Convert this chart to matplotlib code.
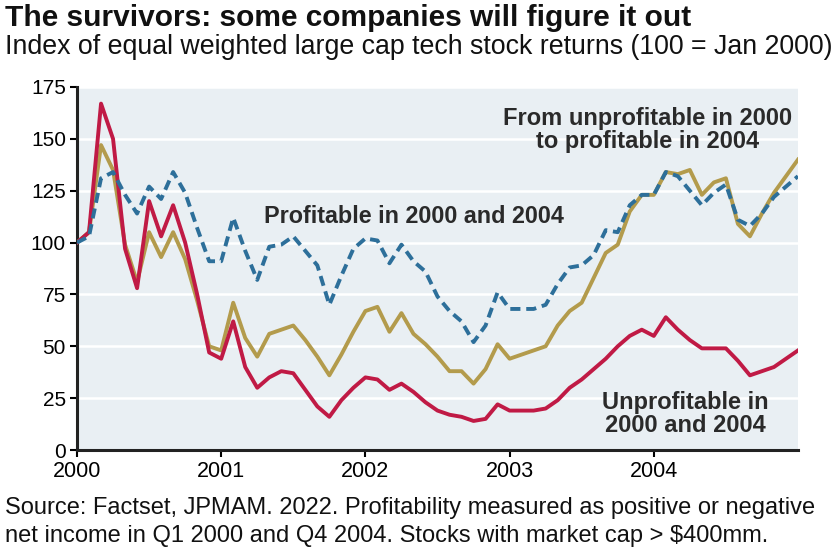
import matplotlib
matplotlib.use("Agg")
import matplotlib.pyplot as plt
import numpy as np

plt.rcParams['font.family'] = ['Liberation Sans', 'DejaVu Sans']

# Monthly index values, Jan 2000 (month 0) through Jan 2005 (month 60)
months = np.arange(61)
unprofitable_both = [100, 105, 167, 150, 97, 78, 120, 103, 118, 100,
                     75, 47, 44, 62, 40, 30, 35, 38, 37, 29,
                     21, 16, 24, 30, 35, 34, 29, 32, 28, 23,
                     19, 17, 16, 14, 15, 22, 19, 19, 19, 20,
                     24, 30, 34, 39, 44, 50, 55, 58, 55, 64,
                     58, 53, 49, 49, 49, 43, 36, 38, 40, 44, 48]
unprof_to_prof = [100, 105, 147, 135, 99, 81, 105, 93, 105, 92,
                  72, 50, 48, 71, 54, 45, 56, 58, 60, 53,
                  45, 36, 46, 57, 67, 69, 57, 66, 56, 51,
                  45, 38, 38, 32, 39, 51, 44, 46, 48, 50,
                  60, 67, 71, 83, 95, 99, 115, 123, 123, 134,
                  133, 135, 123, 129, 131, 109, 103, 114, 124, 132, 140]
profitable_both = [100, 103, 131, 134, 123, 114, 127, 121, 134, 124,
                   107, 91, 91, 112, 96, 82, 98, 99, 103, 96,
                   89, 70, 84, 97, 102, 101, 90, 99, 91, 86,
                   74, 67, 62, 52, 60, 76, 68, 68, 68, 70,
                   80, 88, 89, 94, 106, 105, 118, 123, 123, 134,
                   132, 125, 118, 124, 128, 111, 108, 114, 122, 127, 132]
year_ticks = [2000, 2001, 2002, 2003, 2004]
y_ticks = [0, 25, 50, 75, 100, 125, 150, 175]

x = 2000 + months / 12.0

fig = plt.figure(figsize=(8.39, 5.52), dpi=100)
ax = fig.add_axes([77/839, 1 - 450/552, (798-77)/839, (450-87)/552])
ax.set_facecolor('#e9eff3')

for yv in y_ticks[1:]:
    ax.axhline(yv, color='white', lw=1.8, zorder=1)

ax.plot(x, unprof_to_prof, color='#b39b4c', lw=2.8, zorder=3)
ax.plot(x, unprofitable_both, color='#c01a45', lw=2.8, zorder=4)
ax.plot(x, profitable_both, color='#2d6f9a', lw=2.8, ls=(0, (2.6, 1.5)), zorder=5)

ax.set_xlim(2000, 2005)
ax.set_ylim(0, 175)
ax.set_xticks(year_ticks)
ax.set_xticklabels([str(t) for t in year_ticks])
ax.set_yticks(y_ticks)
ax.tick_params(axis='y', labelsize=15, color='black', width=1.5, length=5, pad=3)
ax.tick_params(axis='x', labelsize=15.5, color='black', width=1.5, length=5, pad=3)
for s in ['top', 'right']:
    ax.spines[s].set_visible(False)
for s in ['left', 'bottom']:
    ax.spines[s].set_linewidth(2.2)
    ax.spines[s].set_color('#222222')

ax.text(2003.96, 154.5, 'From unprofitable in 2000\nto profitable in 2004', ha='center', va='center',
        fontsize=17, fontweight='bold', color='#2a2a2a', linespacing=1.0)
ax.text(2001.30, 112.6, 'Profitable in 2000 and 2004', ha='left', va='center',
        fontsize=16.8, fontweight='bold', color='#2a2a2a')
ax.text(2004.22, 17.4, 'Unprofitable in\n2000 and 2004', ha='center', va='center',
        fontsize=17, fontweight='bold', color='#2a2a2a', linespacing=1.0)

fig.text(5/839, 1 - 18/552, 'The survivors: some companies will figure it out', ha='left', va='center',
         fontsize=21.5, fontweight='bold', color='#111111')
fig.text(5/839, 1 - 47/552, 'Index of equal weighted large cap tech stock returns (100 = Jan 2000)', ha='left',
         va='center', fontsize=19.3, color='#111111')
fig.text(5/839, 1 - 508/552, 'Source: Factset, JPMAM. 2022. Profitability measured as positive or negative',
         ha='left', va='center', fontsize=17, color='#111111')
fig.text(5/839, 1 - 536/552, 'net income in Q1 2000 and Q4 2004. Stocks with market cap > $400mm.',
         ha='left', va='center', fontsize=17, color='#111111')

fig.savefig('out.png', dpi=100)
